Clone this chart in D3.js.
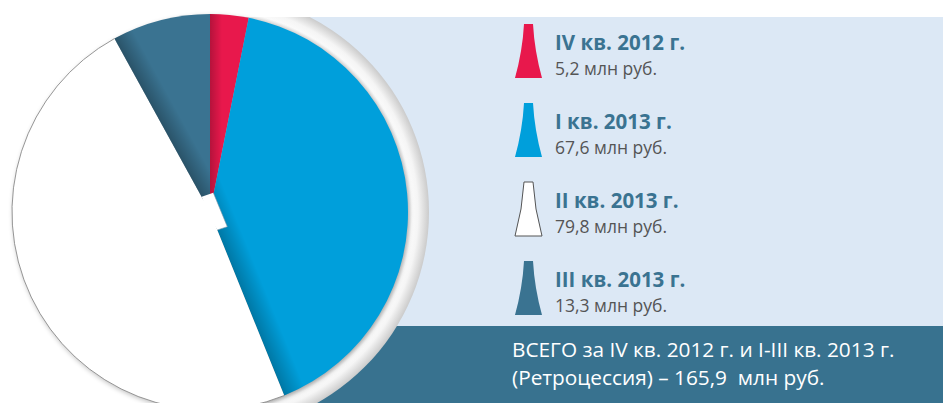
<!DOCTYPE html>
<html><head><meta charset="utf-8">
<script src="https://cdn.jsdelivr.net/npm/d3@7"></script>
<style>body{margin:0;background:#fff}svg{display:block}</style>
</head><body>
<svg id="chart" width="943" height="403"></svg>
<script>
// ---- data ----
const categories = ["IV кв. 2012 г.", "I кв. 2013 г.", "II кв. 2013 г.", "III кв. 2013 г."];
const values = [5.2, 67.6, 79.8, 13.3];
const unitLabel = "млн руб.";
const totalTitle = "ВСЕГО за IV кв. 2012 г. и I-III кв. 2013 г.";
const totalPrefix = "(Ретроцессия) – ";

// ---- style / layout ----
const colors = ["#e8184c", "#009fdb", "#ffffff", "#3a7391"];
const W = 943, H = 403;
const cx = 210, cy = 212, R = 198, ringR = 219;
const font = "'Open Sans', 'Noto Sans', sans-serif";
const ru = d3.formatLocale({decimal: ",", thousands: " ", grouping: [3], currency: ["", ""]});
const fmt = ru.format(".1f");

const svg = d3.select("#chart");
const defs = svg.append("defs");

// panels
svg.append("rect").attr("x", 215).attr("y", 17).attr("width", W - 215).attr("height", 326 - 17).attr("fill", "#dce8f5");
svg.append("rect").attr("x", 260).attr("y", 326).attr("width", W - 260).attr("height", H - 326).attr("fill", "#38728f");

// ring clipped to panels
const clip = defs.append("clipPath").attr("id", "panelClip");
clip.append("rect").attr("x", 215).attr("y", 17).attr("width", W - 215).attr("height", 326 - 17);
clip.append("rect").attr("x", 260).attr("y", 326).attr("width", W - 260).attr("height", H - 326);
const rg = defs.append("radialGradient").attr("id", "ringGrad").attr("gradientUnits", "userSpaceOnUse")
  .attr("cx", cx).attr("cy", cy).attr("r", ringR);
[[0, "#ffffff"], [R / ringR, "#e2e2e2"], [(R + 4) / ringR, "#fafafa"], [(R + 10) / ringR, "#f5f5f5"], [1, "#cbcbcb"]]
  .forEach(([o, c]) => rg.append("stop").attr("offset", o).attr("stop-color", c));
svg.append("circle").attr("cx", cx).attr("cy", cy).attr("r", ringR)
  .attr("fill", "url(#ringGrad)").attr("clip-path", "url(#panelClip)");

// pie shadow
const blur = defs.append("filter").attr("id", "blur").attr("x", "-20%").attr("y", "-20%").attr("width", "140%").attr("height", "140%");
blur.append("feGaussianBlur").attr("stdDeviation", 2.5);
svg.append("circle").attr("cx", cx + 1).attr("cy", cy + 2).attr("r", R)
  .attr("fill", "#000").attr("opacity", 0.25).attr("filter", "url(#blur)");

// pie
const pie = d3.pie().value(d => d).sort(null);
const arcs = pie(values);
const arc = d3.arc().innerRadius(0).outerRadius(R);
const g = svg.append("g").attr("transform", `translate(${cx},${cy})`);
g.selectAll("path.slice").data(arcs).join("path").attr("class", "slice")
  .attr("d", arc).attr("fill", (d, i) => colors[i]);

// edge shading (style): which edge of which slice gets a soft shadow
const shading = [{i: 0, edge: "start", w: 12, o: 0.22}, {i: 1, edge: "end", w: 22, o: 0.25}, {i: 3, edge: "start", w: 20, o: 0.28}];
shading.forEach((s, k) => {
  const a = arcs[s.i];
  const ang = s.edge === "start" ? a.startAngle : a.endAngle;
  const sign = s.edge === "start" ? 1 : -1;
  const nx = sign * Math.cos(ang), ny = sign * Math.sin(ang);
  const gid = "shade" + k;
  const lg = defs.append("linearGradient").attr("id", gid).attr("gradientUnits", "userSpaceOnUse")
    .attr("x1", 0).attr("y1", 0).attr("x2", nx * s.w).attr("y2", ny * s.w);
  lg.append("stop").attr("offset", 0).attr("stop-color", "#000").attr("stop-opacity", s.o);
  lg.append("stop").attr("offset", 1).attr("stop-color", "#000").attr("stop-opacity", 0);
  g.append("path").attr("d", arc(a)).attr("fill", `url(#${gid})`);
});

// centre notch (decorative gap)
const notch = [[-8.3, -15.3], [3.3, -19.3], [17.3, 14.7], [7.3, 18], [-3, 0]];
g.append("path").attr("d", d3.line()(notch) + "Z").attr("fill", "#fff");
g.append("path").attr("d", d3.line()(notch.slice(1, 4))).attr("fill", "none").attr("stroke", "#7d97a8").attr("stroke-width", 0.6);

// outline on the white slice arc
const wa = arcs[2];
const p = d3.path();
p.arc(0, 0, R, wa.startAngle - Math.PI / 2, wa.endAngle - Math.PI / 2);
g.append("path").attr("d", p.toString()).attr("fill", "none").attr("stroke", "#8a8a8a").attr("stroke-width", 0.9);

// legend
const ly = d3.scalePoint().domain(categories).range([50, 287]);
const iconCx = 528.5;
const iconPath = (top, bot) => {
  const h = bot - top;
  return `M${-4.5},${top} L${4.5},${top} Q${6},${top + h / 2} ${13.5},${bot} L${-13.5},${bot} Q${-6},${top + h / 2} ${-4.5},${top} Z`;
};
const leg = svg.append("g");
categories.forEach((c, i) => {
  const y = ly(c);
  leg.append("path").attr("transform", `translate(${iconCx},0)`)
    .attr("d", iconPath(y - 26, y + 28))
    .attr("fill", colors[i]).attr("stroke", i === 2 ? "#555" : "none").attr("stroke-width", 1);
  leg.append("text").attr("x", 555).attr("y", y).text(c)
    .attr("font-family", font).attr("font-weight", 700).attr("font-size", 20.5).attr("fill", "#3a7391");
  leg.append("text").attr("x", 555).attr("y", y + 25).text(fmt(values[i]) + " " + unitLabel)
    .attr("font-family", font).attr("font-size", 17.5).attr("fill", "#555");
});

// total
const total = d3.sum(values);
const tg = svg.append("g").attr("font-family", font).attr("font-size", 20.8).attr("fill", "#fff");
tg.append("text").attr("x", 512).attr("y", 357).text(totalTitle);
tg.append("text").attr("x", 512).attr("y", 385).style("white-space", "pre")
  .text(totalPrefix + fmt(total) + "  " + unitLabel);
</script>
</body></html>
